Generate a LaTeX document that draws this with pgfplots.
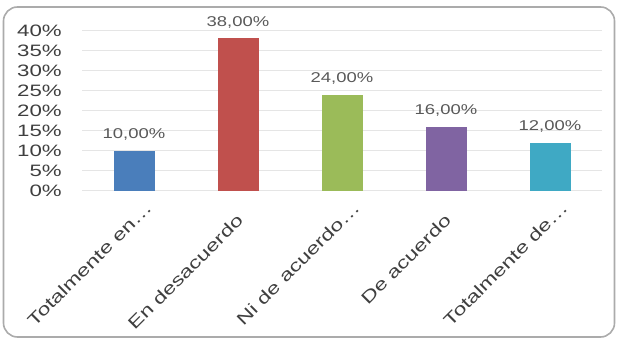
\documentclass[border=0pt]{standalone}
\usepackage{pgfplots}
\pgfplotsset{compat=1.18}
\usepackage{fontspec}
\setmainfont{Liberation Sans}
\definecolor{cblue}{HTML}{4A7EBB}
\definecolor{cred}{HTML}{C0504D}
\definecolor{cgreen}{HTML}{9BBB59}
\definecolor{cpurple}{HTML}{8064A2}
\definecolor{cteal}{HTML}{3FA9C4}
\definecolor{txt}{HTML}{3F3F3F}
\definecolor{lbl}{HTML}{595959}
\newcommand{\xl}[1]{\scalebox{1.35}[1]{#1}}
\begin{document}
\begin{tikzpicture}[x=1pt,y=1pt]
\path[use as bounding box] (0,0) rectangle (618,345);
\draw[color=black!33, line width=1.6pt, rounded corners=14pt] (3.5,8) rectangle (614.5,338);
\begin{axis}[
  at={(82pt,154.3pt)}, anchor=south west,
  scale only axis, width=520pt, height=160.3pt,
  ybar, bar width=41pt, bar shift=0pt,
  xmin=-0.5, xmax=4.5, ymin=0, ymax=40,
  axis line style={draw=none},
  major tick length=0pt,
  ymajorgrids, grid style={color=black!10, line width=1.3pt},
  ytick={0,5,...,40},
  /pgf/number format/assume math mode=true,
  yticklabel={\scalebox{1.35}[1]{\pgfmathprintnumber{\tick}\%}},
  yticklabel style={anchor=east, inner sep=0pt, xshift=-20pt, text=txt,
    font=\fontsize{16.5pt}{18pt}\selectfont},
  xtick={0,1,2,3,4},
  xticklabels={{\xl{Totalmente en…}},{\xl{En desacuerdo}\kern18pt},{\xl{Ni de acuerdo…}},{\xl{De acuerdo}\kern18pt},{\xl{Totalmente de…}}},
  xticklabel style={anchor=base east, inner sep=0pt, xshift=19pt, yshift=-18pt, rotate=45, text=txt,
    font=\fontsize{17pt}{19pt}\selectfont},
  nodes near coords={\scalebox{1.3}[1]{\pgfmathprintnumber[fixed, fixed zerofill, precision=2, use comma]{\pgfplotspointmeta}\%}},
  every node near coord/.append style={anchor=base, inner sep=0pt, yshift=12.3pt, text=lbl,
    font=\fontsize{14.2pt}{16pt}\selectfont},
  clip=false,
]
\addplot[fill=cblue, draw=none] coordinates {(0,10)};
\addplot[fill=cred, draw=none] coordinates {(1,38)};
\addplot[fill=cgreen, draw=none] coordinates {(2,24)};
\addplot[fill=cpurple, draw=none] coordinates {(3,16)};
\addplot[fill=cteal, draw=none] coordinates {(4,12)};
\end{axis}
\end{tikzpicture}
\end{document}
